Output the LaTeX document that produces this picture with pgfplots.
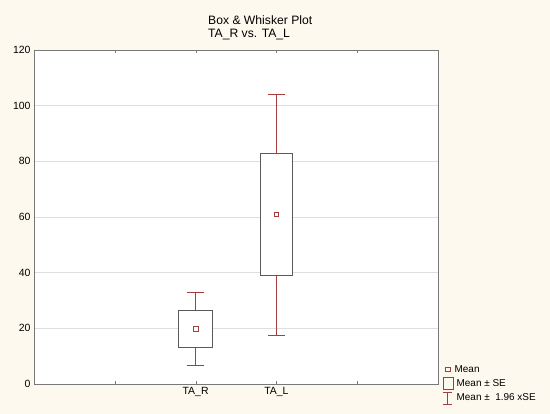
\documentclass[border=0pt]{standalone}
\usepackage{pgfplots}
\pgfplotsset{compat=1.18}
\usepackage{fontspec}
\setmainfont{Liberation Sans}

\definecolor{bgcream}{RGB}{253,249,238}
\definecolor{whred}{RGB}{165,60,62}
\definecolor{boxgray}{RGB}{90,90,90}
\definecolor{axgray}{RGB}{120,120,120}
\definecolor{gridgray}{RGB}{222,222,222}

\begin{document}
\begin{tikzpicture}
\fill[bgcream] (0,0) rectangle (550bp,414bp);
\fill[white] (34bp,30bp) rectangle (438bp,364bp);
\node[anchor=north west, align=left, font=\fontsize{12.2}{13.8}\selectfont, inner sep=0pt]
  at (208bp,399bp) {Box \& Whisker Plot\\TA\_R vs. TA\_L};
\begin{axis}[
    at={(34bp,30bp)}, anchor=south west,
    scale only axis,
    width=404bp, height=334bp,
    xmin=0, xmax=5,
    ymin=0, ymax=120,
    xtick={1,2,3,4},
    xticklabels={,TA\_R,TA\_L,},
    ytick={0,20,...,120},
    ymajorgrids,
    grid style={gridgray, line width=0.6pt},
    axis line style={axgray, line width=0.8pt},
    tick style={axgray},
    major tick length=3pt,
    ytick style={draw=none},
    xtick align=inside,
    tick label style={font=\fontsize{10.5}{12}\selectfont},
    /pgf/number format/assume math mode=true,
    legend style={at={(rel axis cs:1.012,0.06)}, anchor=north west,
        draw=none, fill=none, font=\fontsize{10}{12}\selectfont,
        row sep=3pt, inner sep=0pt, nodes={inner sep=1pt}},
    legend cell align=left,
]
\addlegendimage{legend image code/.code={
    \draw[whred, line width=0.7pt] (0.02cm,-0.08cm) rectangle (0.18cm,0.08cm);}}
\addlegendentry{Mean}
\addlegendimage{legend image code/.code={
    \draw[boxgray, line width=0.7pt] (-0.06cm,-0.19cm) rectangle (0.29cm,0.2cm);}}
\addlegendentry{\hspace{2pt}Mean ± SE}
\addlegendimage{legend image code/.code={
    \draw[whred, line width=0.7pt] (0.09cm,-0.2cm) -- (0.09cm,0.2cm)
      (-0.06cm,-0.2cm) -- (0.24cm,-0.2cm)
      (-0.06cm,0.2cm) -- (0.24cm,0.2cm);}}
\addlegendentry{\hspace{2pt}Mean ±\ \ 1.96 xSE}

% whiskers: mean +- 1.96 SE (stems and caps)
\addplot[forget plot, draw=whred, line width=0.8pt, mark=none, unbounded coords=jump]
    coordinates {
      (2,26.3) (2,32.9) (nan,nan) (1.895,32.9) (2.105,32.9) (nan,nan)
      (2,13.0) (2,6.7) (nan,nan) (1.895,6.7) (2.105,6.7) (nan,nan)
      (3,82.9) (3,104.1) (nan,nan) (2.895,104.1) (3.105,104.1) (nan,nan)
      (3,38.9) (3,17.6) (nan,nan) (2.895,17.6) (3.105,17.6)};
% boxes: mean +- SE
\addplot[forget plot, fill=white, draw=boxgray, line width=0.8pt, line cap=rect]
    coordinates {(1.79,13.0) (2.21,13.0) (2.21,26.3) (1.79,26.3) (1.79,13.0)};
\addplot[forget plot, fill=white, draw=boxgray, line width=0.8pt, line cap=rect]
    coordinates {(2.80,38.9) (3.20,38.9) (3.20,82.9) (2.80,82.9) (2.80,38.9)};
% means
\addplot[forget plot, only marks, mark=square, mark size=2.4pt,
    mark options={draw=whred, fill=none, line width=0.6pt}]
    coordinates {(2,19.9) (3,61.0)};
\end{axis}
\end{tikzpicture}
\end{document}
